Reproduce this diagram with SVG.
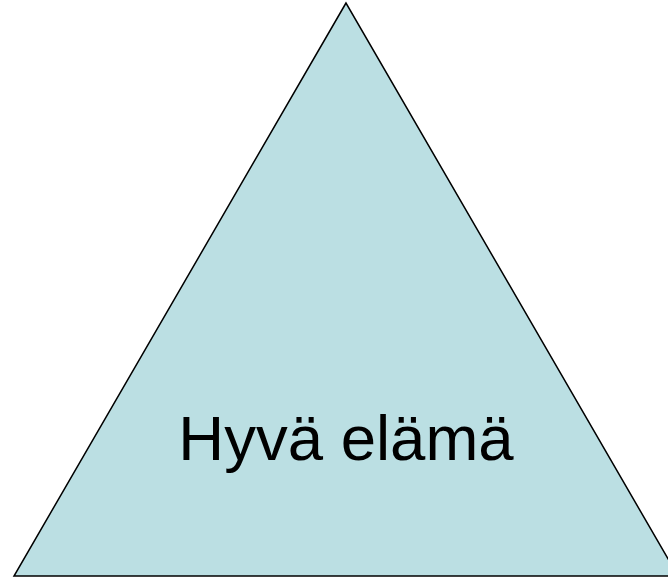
<svg xmlns="http://www.w3.org/2000/svg" width="668" height="578" viewBox="0 0 668 578">
<style>
.tri{fill:#BBDFE3;stroke:#000;stroke-width:1.5}
.lbl{font-family:"Liberation Sans",Arial,sans-serif;font-size:63.5px;fill:#000}
</style>
<rect width="668" height="578" fill="#fff"/>
<g id="triangle">
<polygon class="tri" points="346,3 14,576 678,576"/>
<text class="lbl" x="346" y="460" text-anchor="middle">Hyvä elämä</text>
</g>
</svg>
